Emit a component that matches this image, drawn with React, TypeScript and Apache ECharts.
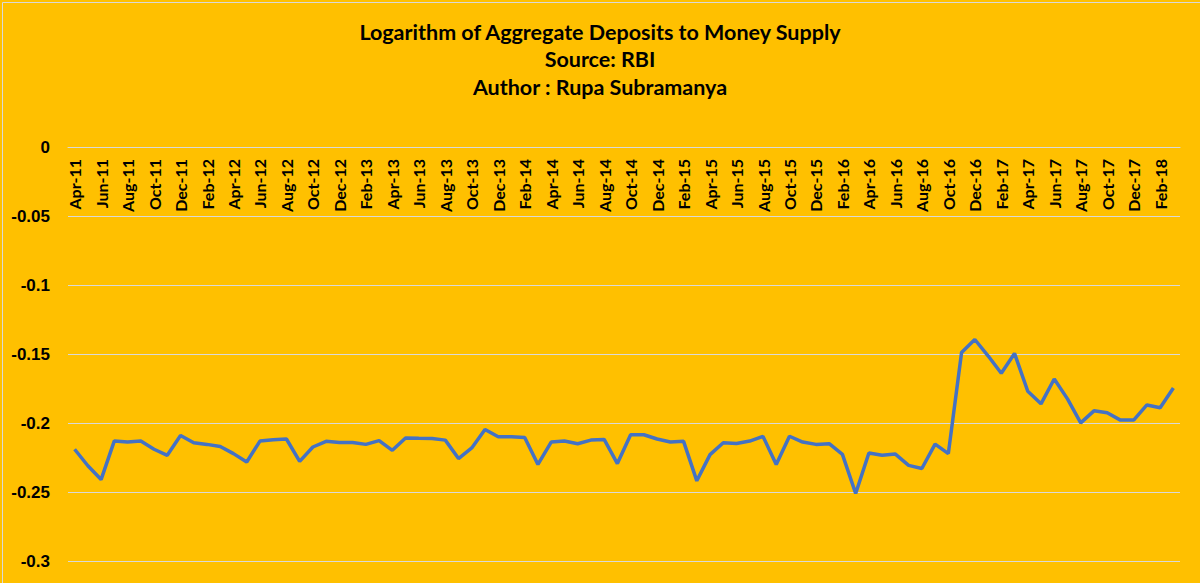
import React, { useEffect, useRef } from "react";
import * as echarts from "echarts";

const months: string[] = [
  "Apr-11", "May-11", "Jun-11", "Jul-11", "Aug-11", "Sep-11", "Oct-11", "Nov-11", "Dec-11", "Jan-12", "Feb-12", "Mar-12",
  "Apr-12", "May-12", "Jun-12", "Jul-12", "Aug-12", "Sep-12", "Oct-12", "Nov-12", "Dec-12", "Jan-13", "Feb-13", "Mar-13",
  "Apr-13", "May-13", "Jun-13", "Jul-13", "Aug-13", "Sep-13", "Oct-13", "Nov-13", "Dec-13", "Jan-14", "Feb-14", "Mar-14",
  "Apr-14", "May-14", "Jun-14", "Jul-14", "Aug-14", "Sep-14", "Oct-14", "Nov-14", "Dec-14", "Jan-15", "Feb-15", "Mar-15",
  "Apr-15", "May-15", "Jun-15", "Jul-15", "Aug-15", "Sep-15", "Oct-15", "Nov-15", "Dec-15", "Jan-16", "Feb-16", "Mar-16",
  "Apr-16", "May-16", "Jun-16", "Jul-16", "Aug-16", "Sep-16", "Oct-16", "Nov-16", "Dec-16", "Jan-17", "Feb-17", "Mar-17",
  "Apr-17", "May-17", "Jun-17", "Jul-17", "Aug-17", "Sep-17", "Oct-17", "Nov-17", "Dec-17", "Jan-18", "Feb-18", "Mar-18",
];

const logDepositsToM3: number[] = [
  -0.219, -0.231, -0.241, -0.213, -0.2138, -0.2131, -0.219, -0.2234, -0.209, -0.2143, -0.2155, -0.217,
  -0.2222, -0.2283, -0.2131, -0.2121, -0.2116, -0.2278, -0.2174, -0.2133, -0.2141, -0.2141, -0.2155, -0.2128,
  -0.2198, -0.2109, -0.2111, -0.2112, -0.2124, -0.2258, -0.2181, -0.2047, -0.21, -0.21, -0.2105, -0.23,
  -0.2138, -0.2131, -0.215, -0.2124, -0.2119, -0.2294, -0.2085, -0.2085, -0.2116, -0.2138, -0.2133, -0.2419,
  -0.2229, -0.2143, -0.2148, -0.2131, -0.2097, -0.23, -0.2096, -0.2138, -0.2155, -0.215, -0.2227, -0.2511,
  -0.2217, -0.2234, -0.2225, -0.2307, -0.233, -0.2153, -0.2222, -0.1489, -0.1395, -0.1513, -0.164, -0.1496,
  -0.177, -0.1861, -0.1681, -0.1825, -0.1999, -0.1912, -0.1926, -0.1979, -0.1979, -0.1869, -0.189, -0.1746,
];

const titleLines: string[] = [
  "Logarithm of Aggregate Deposits to Money Supply",
  "Source: RBI",
  "Author : Rupa Subramanya",
];

export default function App() {
  const ref = useRef<HTMLDivElement>(null);
  useEffect(() => {
    if (!ref.current) return;
    const chart = echarts.init(ref.current, undefined, { renderer: "svg" });
    chart.setOption({
      animation: false,
      backgroundColor: "#FFC000",
      title: {
        text: titleLines.join("\n"),
        left: "center",
        top: 18,
        padding: 0,
        textStyle: {
          fontFamily: "Lato",
          fontWeight: "bold",
          fontSize: 21.5,
          lineHeight: 27.5,
          color: "#000000",
        },
      },
      graphic: [
        {
          type: "rect",
          left: 0,
          top: 0,
          shape: { x: 0.5, y: 0.5, width: 1199, height: 582 },
          style: { fill: "none", stroke: "#D9D9D9", lineWidth: 1 },
          silent: true,
        },
      ],
      grid: { left: 68, right: 20, top: 147, bottom: 22, containLabel: false },
      xAxis: {
        type: "category",
        position: "top",
        data: months,
        boundaryGap: true,
        axisLine: { show: true, onZero: false, lineStyle: { color: "#D9D9D9", width: 1 } },
        axisTick: { show: false },
        axisLabel: {
          inside: true,
          interval: 1,
          rotate: -90,
          margin: 12,
          padding: [9, 0, 0, 0],
          fontFamily: "Lato",
          fontWeight: "bold",
          fontSize: 16,
          color: "#000000",
        },
        splitLine: { show: false },
      },
      yAxis: {
        type: "value",
        min: -0.3,
        max: 0,
        interval: 0.05,
        axisLine: { show: false },
        axisTick: { show: false },
        axisLabel: {
          margin: 18,
          fontFamily: "Liberation Sans",
          fontWeight: "bold",
          fontSize: 17,
          color: "#000000",
          formatter: (v: number) => String(Math.round(v * 100) / 100),
        },
        splitLine: { lineStyle: { color: "#D9D9D9", width: 1 } },
      },
      series: [
        {
          type: "line",
          data: logDepositsToM3,
          showSymbol: false,
          symbol: "none",
          lineStyle: { color: "#4472C4", width: 3.5 },
        },
      ],
    });
    return () => chart.dispose();
  }, []);
  return (
    <div
      ref={ref}
      style={{ position: "absolute", left: 0, top: 0, width: 1200, height: 583 }}
    />
  );
}
